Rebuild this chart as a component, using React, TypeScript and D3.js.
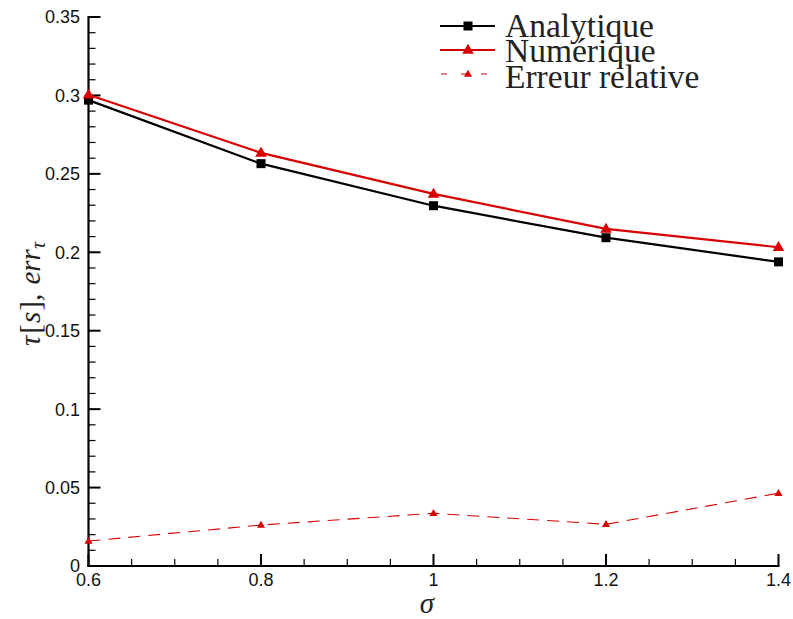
import React from "react";
import * as d3 from "d3";

const sigma = [0.6, 0.8, 1.0, 1.2, 1.4];
const analytique = [0.297, 0.2565, 0.2297, 0.2093, 0.1939];
const numerique = [0.3004, 0.2634, 0.2372, 0.2149, 0.2032];
const erreur = [0.0159, 0.0261, 0.0336, 0.0266, 0.0464];

const xMajor = [0.6, 0.8, 1.0, 1.2, 1.4];
const xLabels = ["0.6", "0.8", "1", "1.2", "1.4"];
const yMajor = [0, 0.05, 0.1, 0.15, 0.2, 0.25, 0.3, 0.35];
const yLabels = ["0", "0.05", "0.1", "0.15", "0.2", "0.25", "0.3", "0.35"];
const legendNames = ["Analytique", "Numérique", "Erreur relative"];

const RED = "#d80000";

export default function App() {
  const W = 793, H = 619;
  const x = d3.scaleLinear().domain([0.6, 1.4]).range([88.5, 778.5]);
  const y = d3.scaleLinear().domain([0, 0.35]).range([566, 17]);

  const xMinor = d3.range(0, 17).map((i) => 0.6 + i * 0.05).filter((v) => !xMajor.some((m) => Math.abs(m - v) < 1e-6));
  const yMinor = d3.range(0, 36).map((i) => i * 0.01).filter((v) => !yMajor.some((m) => Math.abs(m - v) < 1e-6));

  const line = d3.line<[number, number]>().x((d) => x(d[0])).y((d) => y(d[1]));
  const pts = (arr: number[]) => sigma.map((s, i) => [s, arr[i]] as [number, number]);

  const tri = (cx: number, cy: number, s: number) =>
    `M${cx},${cy - s * 0.62} L${cx + s * 0.58},${cy + s * 0.38} L${cx - s * 0.58},${cy + s * 0.38} Z`;

  const serif = "'Liberation Serif', 'DejaVu Serif', serif";
  const sans = "'Liberation Sans', Arial, sans-serif";

  const legendY = [26, 50, 74];

  return (
    <svg width={W} height={H} style={{ position: "absolute", left: 0, top: 0, background: "#fff" }}>
      {/* axes */}
      <line x1={x(0.6)} x2={x(0.6)} y1={y(0.35) - 1} y2={y(0) + 1} stroke="#000" strokeWidth={2.2} />
      <line x1={x(0.6) - 1} x2={x(1.4) + 1} y1={y(0)} y2={y(0)} stroke="#000" strokeWidth={2.2} />
      {yMajor.map((v) => (
        <line key={"ym" + v} x1={x(0.6)} x2={x(0.6) + 12} y1={y(v)} y2={y(v)} stroke="#000" strokeWidth={2} />
      ))}
      {yMinor.map((v) => (
        <line key={"yn" + v} x1={x(0.6)} x2={x(0.6) + 7} y1={y(v)} y2={y(v)} stroke="#000" strokeWidth={1.2} />
      ))}
      {xMajor.map((v) => (
        <line key={"xm" + v} x1={x(v)} x2={x(v)} y1={y(0)} y2={y(0) - 12} stroke="#000" strokeWidth={2} />
      ))}
      {xMinor.map((v) => (
        <line key={"xn" + v} x1={x(v)} x2={x(v)} y1={y(0)} y2={y(0) - 7} stroke="#000" strokeWidth={1.2} />
      ))}
      {yMajor.map((v, i) => (
        <text key={"yl" + v} x={80} y={y(v)} dy="0.36em" textAnchor="end" fontFamily={sans} fontSize={18} fill="#111">
          {yLabels[i]}
        </text>
      ))}
      {xMajor.map((v, i) => (
        <text key={"xl" + v} x={x(v)} y={586} textAnchor="middle" fontFamily={sans} fontSize={18} fill="#111">
          {xLabels[i]}
        </text>
      ))}

      {/* series */}
      <path d={line(pts(erreur)) || ""} fill="none" stroke={RED} strokeWidth={1.1} strokeDasharray="12,8" />
      <path d={line(pts(analytique)) || ""} fill="none" stroke="#000" strokeWidth={2.2} />
      <path d={line(pts(numerique)) || ""} fill="none" stroke={RED} strokeWidth={2.2} />
      {pts(analytique).map((d, i) => (
        <rect key={"a" + i} x={x(d[0]) - 4.5} y={y(d[1]) - 4.5} width={9} height={9} fill="#000" />
      ))}
      {pts(numerique).map((d, i) => (
        <path key={"n" + i} d={tri(x(d[0]), y(d[1]), 10)} fill={RED} />
      ))}
      {pts(erreur).map((d, i) => (
        <path key={"e" + i} d={tri(x(d[0]), y(d[1]), 7)} fill={RED} />
      ))}

      {/* legend */}
      <line x1={440} x2={495} y1={legendY[0]} y2={legendY[0]} stroke="#000" strokeWidth={2.2} />
      <rect x={468 - 4.5} y={legendY[0] - 4.5} width={9} height={9} fill="#000" />
      <line x1={440} x2={495} y1={legendY[1]} y2={legendY[1]} stroke={RED} strokeWidth={2.2} />
      <path d={tri(468, legendY[1], 10)} fill={RED} />
      <line x1={440} x2={495} y1={legendY[2]} y2={legendY[2]} stroke={RED} strokeWidth={1.1} strokeDasharray="6,14" strokeDashoffset={-1} />
      <path d={tri(468, legendY[2], 7)} fill={RED} />
      {legendNames.map((n, i) => (
        <text key={n} x={505} y={[37, 62, 88][i]} fontFamily={serif} fontSize={33.5} fill="#222">
          {n}
        </text>
      ))}

      {/* axis titles */}
      <text x={427} y={613} textAnchor="middle" fontFamily={serif} fontSize={29} fontStyle="italic" fill="#222">
        σ
      </text>
      <text transform="translate(40,294) rotate(-90)" textAnchor="middle" fontFamily={serif} fontSize={29} fill="#222">
        <tspan fontStyle="italic">τ</tspan>
        <tspan dx={2}>[</tspan>
        <tspan fontStyle="italic" dx={1}>s</tspan>
        <tspan dx={1}>], </tspan>
        <tspan fontStyle="italic" dx={2}>err</tspan>
        <tspan fontStyle="italic" fontSize={20} dy={5}>τ</tspan>
      </text>
    </svg>
  );
}
